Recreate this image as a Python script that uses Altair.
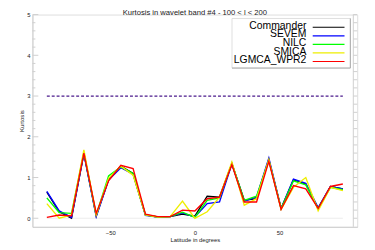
import altair as alt
import pandas as pd

# ---------------- data ----------------
lat = [-87.5, -80.2, -72.9, -65.6, -58.3, -51.0, -43.75, -36.5, -29.2, -21.9, -14.6, -7.3, 0.0,
       7.3, 14.6, 21.9, 29.2, 36.5, 43.75, 51.0, 58.3, 65.6, 72.9, 80.2, 87.5]
commander = [0.64, 0.16, 0.00, 1.60, 0.06, 0.95, 1.28, 1.10, 0.08, 0.03, 0.04, 0.10, 0.05,
             0.54, 0.52, 1.34, 0.44, 0.48, 1.44, 0.24, 0.94, 0.84, 0.24, 0.78, 0.72]
sevem = [0.66, 0.18, 0.02, 1.58, 0.04, 0.94, 1.24, 1.08, 0.07, 0.03, 0.04, 0.13, 0.03,
         0.36, 0.40, 1.34, 0.42, 0.52, 1.48, 0.24, 0.96, 0.86, 0.26, 0.78, 0.72]
nilc = [0.50, 0.14, 0.12, 1.62, 0.08, 1.04, 1.26, 1.10, 0.08, 0.03, 0.04, 0.15, 0.02,
        0.44, 0.50, 1.35, 0.44, 0.54, 1.42, 0.24, 0.92, 0.82, 0.24, 0.76, 0.70]
smica = [0.36, 0.00, 0.08, 1.68, 0.08, 0.98, 1.28, 1.06, 0.08, 0.03, 0.04, 0.42, 0.00,
         0.16, 0.52, 1.38, 0.32, 0.48, 1.44, 0.22, 0.76, 1.00, 0.18, 0.76, 0.68]
lgmca = [0.02, 0.08, 0.06, 1.60, 0.12, 0.92, 1.30, 1.22, 0.10, 0.04, 0.04, 0.20, 0.18,
         0.48, 0.52, 1.32, 0.40, 0.40, 1.40, 0.22, 0.80, 0.72, 0.24, 0.78, 0.84]
series = ["Commander", "SEVEM", "NILC", "SMICA", "LGMCA_WPR2"]
colors = ["#000000", "#0000ff", "#00ff00", "#eeee00", "#ff0000"]
gauss_level = 3
x_tick_labels = [-50, 0, 50]
y_major = [0, 1, 2, 3, 4, 5]
y_minor = [round(0.2 * k, 1) for k in range(1, 25) if k % 5 != 0]
title_text = "Kurtosis in wavelet band #4 - 100 < l < 200"

rows = []
for name, vals in zip(series, [commander, sevem, nilc, smica, lgmca]):
    for la, v in zip(lat, vals):
        rows.append({"series": name, "lat": la, "kurt": v})
df = pd.DataFrame(rows)
ref = pd.DataFrame({"lat": [lat[0]], "lat2": [lat[-1]], "kurt": [gauss_level], "zero": [0]})
leg = pd.DataFrame({"series": series, "idx": list(range(len(series)))})
major_df = pd.DataFrame({"kurt": y_major})
minor_df = pd.DataFrame({"kurt": y_minor})
all_ticks_df = pd.DataFrame({"kurt": y_major + y_minor})

# ---------------- styling ----------------
W, H = 332, 217
Y0, Y1 = -0.21, 5
PXU = H / (Y1 - Y0)          # pixels per unit, used only to place the legend rows
FONT = "Liberation Sans"
AX = "#cfcfcf"
TXT = "#222222"
xscale = alt.Scale(domain=[-96, 96], nice=False, zero=False)
yscale = alt.Scale(domain=[Y0, Y1], nice=False, zero=False)
cscale = alt.Scale(domain=series, range=colors)

x_axis = alt.Axis(orient="bottom", values=x_tick_labels, ticks=False, tickSize=0,
                  grid=False, domainColor=AX, labelFontSize=6, labelFont=FONT,
                  labelColor=TXT, labelPadding=3, format="d",
                  title="Latitude in degrees", titleFont=FONT, titleFontSize=6,
                  titleFontWeight="normal", titleColor=TXT, titlePadding=1)
y_axis = alt.Axis(orient="left", values=y_major, ticks=False, tickSize=0,
                  grid=False, domainColor=AX, labelFontSize=6, labelFont=FONT,
                  labelColor=TXT, labelPadding=2.5,
                  title="Kurtosis", titleFont=FONT, titleFontSize=6.2,
                  titleFontWeight="normal", titleColor=TXT, titlePadding=2)

lines = alt.Chart(df).mark_line(strokeWidth=1.4).encode(
    x=alt.X("lat:Q", scale=xscale, axis=x_axis),
    y=alt.Y("kurt:Q", scale=yscale, axis=y_axis),
    color=alt.Color("series:N", scale=cscale, legend=None),
)

dashed = alt.Chart(ref).mark_rule(color="#4b1a8c", strokeWidth=1.3, strokeDash=[3, 2]).encode(
    x=alt.X("lat:Q", scale=xscale, axis=x_axis),
    x2="lat2:Q",
    y=alt.Y("kurt:Q", scale=yscale, axis=y_axis),
)

zero_line = alt.Chart(ref).mark_rule(color="#ececec", strokeWidth=1).encode(
    x=alt.X("lat:Q", scale=xscale, axis=x_axis),
    x2="lat2:Q",
    y=alt.Y("zero:Q", scale=yscale, axis=y_axis),
)

# inward ticks on the left axis, frame line with outward ticks on the right
left_major = alt.Chart(major_df).mark_rule(color=AX, strokeWidth=1).encode(
    x=alt.value(0), x2=alt.value(6), y=alt.Y("kurt:Q", scale=yscale, axis=y_axis))
left_minor = alt.Chart(minor_df).mark_rule(color=AX, strokeWidth=1).encode(
    x=alt.value(0), x2=alt.value(3), y=alt.Y("kurt:Q", scale=yscale, axis=y_axis))
right_ticks = alt.Chart(all_ticks_df).mark_rule(color=AX, strokeWidth=1).encode(
    x=alt.value(W - 4), x2=alt.value(W), y=alt.Y("kurt:Q", scale=yscale, axis=y_axis))
right_frame = alt.Chart(ref).mark_rule(color=AX, strokeWidth=1).encode(
    x=alt.value(W - 4), y=alt.value(0), y2=alt.value(H))

# legend drawn as marks (labels left, line samples right, as in the reference)
LEG_X0, LEG_X1, LEG_Y0, LEG_Y1 = 204, 325, 4, 54.7
legend_box = alt.Chart(ref).mark_rect(fill="white", stroke="#dedede", strokeWidth=1).encode(
    x=alt.value(LEG_X0), x2=alt.value(LEG_X1), y=alt.value(LEG_Y0), y2=alt.value(LEG_Y1))
legend_edge_r = alt.Chart(ref).mark_rule(color="#aaaaaa", strokeWidth=1).encode(
    x=alt.value(LEG_X1), y=alt.value(LEG_Y0), y2=alt.value(LEG_Y1))
legend_edge_b = alt.Chart(ref).mark_rule(color="#aaaaaa", strokeWidth=1).encode(
    x=alt.value(LEG_X0), x2=alt.value(LEG_X1), y=alt.value(LEG_Y1))
legend_text = alt.Chart(leg).transform_calculate(
    kurt=f"{Y1} - (14.7 + datum.idx * 8.75) / {PXU}"
).mark_text(align="right", baseline="alphabetic", font=FONT, fontSize=10.6,
            color="black").encode(
    x=alt.value(280), y=alt.Y("kurt:Q", scale=yscale, axis=y_axis), text="series:N")
legend_lines = alt.Chart(leg).transform_calculate(
    kurt=f"{Y1} - (13 + datum.idx * 8.75) / {PXU}"
).mark_rule(strokeWidth=1.2).encode(
    x=alt.value(286.5), x2=alt.value(319),
    y=alt.Y("kurt:Q", scale=yscale, axis=y_axis),
    color=alt.Color("series:N", scale=cscale, legend=None))

chart = alt.layer(
    zero_line, dashed, left_major, left_minor, right_ticks, right_frame, lines,
    legend_box, legend_edge_r, legend_edge_b, legend_text, legend_lines
).properties(
    width=W, height=H,
    title=alt.TitleParams(title_text, fontSize=7.8, font=FONT, fontWeight="normal",
                          color=TXT, offset=-5, anchor="middle"),
    padding={"left": 25, "top": 4, "right": 10, "bottom": 21},
    autosize=alt.AutoSizeParams(type="none"),
).configure_view(stroke=None).configure(background="white")

chart.save("out.html", embed_options={"renderer": "svg", "actions": False})
